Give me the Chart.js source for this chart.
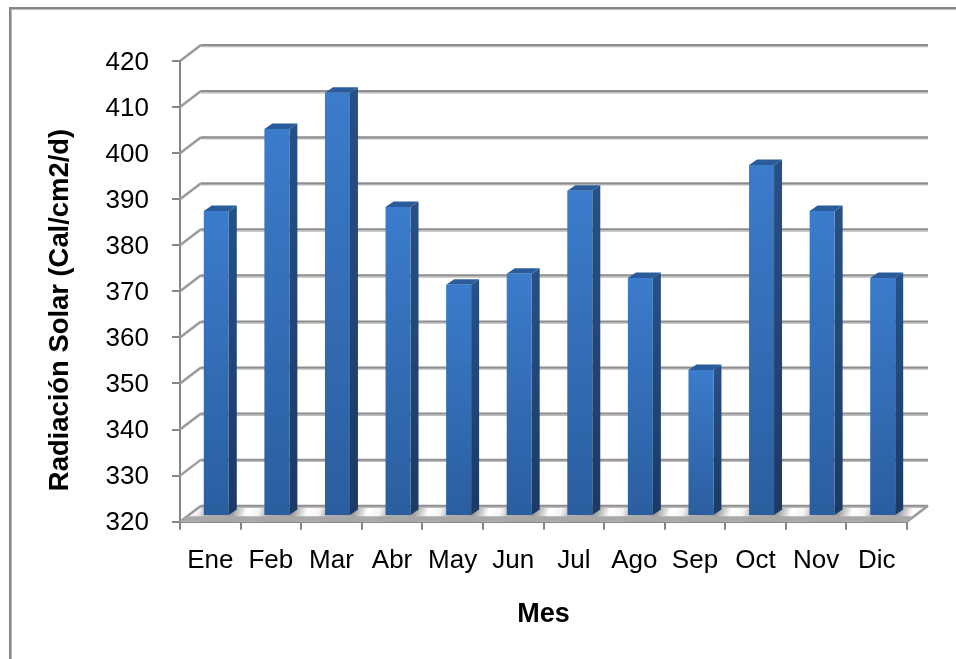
<!DOCTYPE html>
<html><head><meta charset="utf-8">
<style>html,body{margin:0;padding:0;background:#fff}canvas{display:block}</style>
<script src="https://cdn.jsdelivr.net/npm/chart.js@4"></script>
</head><body><canvas id="c" width="956" height="659"></canvas>
<script>
const months = ["Ene","Feb","Mar","Abr","May","Jun","Jul","Ago","Sep","Oct","Nov","Dic"];
const radiation = [386.2,404,411.9,387.1,370.2,372.6,390.6,371.7,351.7,396.2,386.2,371.7];
const yMin = 320, yMax = 420, yStep = 10;
const yTitle = "Radiación Solar (Cal/cm2/d)";
const xTitle = "Mes";

const DX = 21, DY = 16;          // wall depth
const BX = 6, BY = 5.6;          // bar placement inside the depth
const SX = 8, SY = 5.5;          // bar depth
const AXIS = "#868686";

const scene = {
  id: "scene",
  beforeDraw(chart) {
    const c = chart.ctx;
    c.save();
    c.fillStyle = "#bcbcbc"; c.fillRect(11, 9, 945, 1); c.fillRect(11, 9, 1, 650);
    c.fillStyle = "#868686"; c.fillRect(9, 7, 947, 2); c.fillRect(9, 7, 2, 652);
    c.restore();
  },
  beforeDatasetsDraw(chart) {
    const c = chart.ctx, a = chart.chartArea, y = chart.scales.y;
    c.save();
    // floor: one shiny streak per category, running past the last bar
    const n = months.length + 1;
    const g = c.createLinearGradient(a.left, 511, a.left + 722.6, 727.7);
    const p = v => Math.min(1, Math.max(0, v / n));
    for (let i = -1; i < months.length; i++) {
      g.addColorStop(p(i + 0.88), "#a0a0a0");
      g.addColorStop(p(i + 1.1), "#ffffff");
      g.addColorStop(p(i + 1.3), "#f4f4f4");
      g.addColorStop(p(i + 1.45), "#b4b4b4");
    }
    c.fillStyle = g;
    c.beginPath();
    c.moveTo(a.left, a.bottom);
    c.lineTo(a.left + DX, a.bottom - DY);
    c.lineTo(a.right + DX, a.bottom - DY);
    c.lineTo(a.right, a.bottom);
    c.closePath(); c.fill();
    // back gridlines & diagonals
    for (let v = yMin; v <= yMax; v += yStep) {
      const py = y.getPixelForValue(v);
      c.lineWidth = 1.5; c.strokeStyle = "#bcbcbc";
      c.beginPath(); c.moveTo(a.left + DX, py - DY + 1.6); c.lineTo(a.right + DX, py - DY + 1.6); c.stroke();
      c.lineWidth = 2; c.strokeStyle = "#8e8e8e";
      c.beginPath(); c.moveTo(a.left + DX, py - DY); c.lineTo(a.right + DX, py - DY); c.stroke();
      c.lineWidth = 2.5; c.strokeStyle = "#9a9a9a";
      c.beginPath(); c.moveTo(a.left, py); c.lineTo(a.left + DX, py - DY); c.stroke();
      if (v === yMin) { c.beginPath(); c.moveTo(a.right, py); c.lineTo(a.right + DX, py - DY); c.stroke(); }
    }
    // front edge of the floor
    c.fillStyle = "#a8a8a8";
    c.beginPath();
    c.moveTo(a.left, a.bottom); c.lineTo(a.left + 7, a.bottom - 5.5);
    c.lineTo(a.right + 7, a.bottom - 5.5); c.lineTo(a.right, a.bottom);
    c.closePath(); c.fill();
    // bar side and top faces
    chart.getDatasetMeta(0).data.forEach(b => {
      const r = b.x + BX + b.width / 2, l = b.x + BX - b.width / 2;
      const t = b.y - BY, bt = b.base - BY;
      const s = c.createLinearGradient(0, t, 0, bt);
      s.addColorStop(0, "#275086"); s.addColorStop(1, "#1b3a64");
      c.fillStyle = s;
      c.beginPath(); c.moveTo(r, t); c.lineTo(r + SX, t - SY); c.lineTo(r + SX, bt - SY); c.lineTo(r, bt); c.closePath(); c.fill();
      c.fillStyle = "#2a5c9c";
      c.beginPath(); c.moveTo(l, t); c.lineTo(l + SX, t - SY); c.lineTo(r + SX, t - SY); c.lineTo(r, t); c.closePath(); c.fill();
    });
    c.restore();
  },
  beforeDatasetDraw(chart) { chart.ctx.save(); chart.ctx.translate(BX, -BY); },
  afterDatasetDraw(chart) { chart.ctx.restore(); },
  afterDraw(chart) {
    const c = chart.ctx;
    c.save();
    c.translate(60, 310); c.rotate(-Math.PI / 2);
    c.font = "bold 27.4px 'Liberation Sans'";
    c.fillStyle = "#000"; c.textAlign = "center"; c.textBaseline = "middle";
    c.fillText(yTitle, 0, 0);
    c.restore();
  }
};

new Chart(document.getElementById("c"), {
  type: "bar",
  data: { labels: months, datasets: [{
    data: radiation,
    base: yMin,
    barPercentage: 0.4125,
    categoryPercentage: 1,
    backgroundColor(ctx) {
      const chart = ctx.chart, s = chart.scales.y;
      if (!s || ctx.dataIndex === undefined) return "#3a7bca";
      const y0 = s.getPixelForValue(radiation[ctx.dataIndex]), y1 = s.getPixelForValue(yMin);
      if (!Number.isFinite(y0) || !Number.isFinite(y1)) return "#3a7bca";
      const g = chart.ctx.createLinearGradient(0, y0, 0, y1);
      g.addColorStop(0, "#3b7ccb"); g.addColorStop(1, "#2b5e9f");
      return g;
    }
  }]},
  plugins: [scene],
  options: {
    responsive: false, animation: false, devicePixelRatio: 1,
    layout: { padding: { top: 61, right: 49, left: 0, bottom: 0 } },
    plugins: { legend: { display: false }, tooltip: { enabled: false } },
    scales: {
      x: {
        afterFit(s) { s.height = 137.3; },
        grid: { drawOnChartArea: false, color: AXIS, lineWidth: 2, tickLength: 8, offset: true },
        border: { color: AXIS, width: 2 },
        ticks: { color: "#000", font: { family: "Liberation Sans", size: 26 }, padding: 16, maxRotation: 0, autoSkip: false },
        title: { display: true, text: xTitle, color: "#000", font: { family: "Liberation Sans", size: 27, weight: "bold" }, padding: { top: 0, bottom: 28 } }
      },
      y: {
        min: yMin, max: yMax,
        afterFit(s) { s.width = 180; },
        grid: { drawOnChartArea: false, color: AXIS, lineWidth: 2, tickLength: 8 },
        border: { color: AXIS, width: 2 },
        ticks: { color: "#000", stepSize: yStep, font: { family: "Liberation Sans", size: 26 }, padding: 23, labelOffset: 1.5 }
      }
    }
  }
});
</script></body></html>
